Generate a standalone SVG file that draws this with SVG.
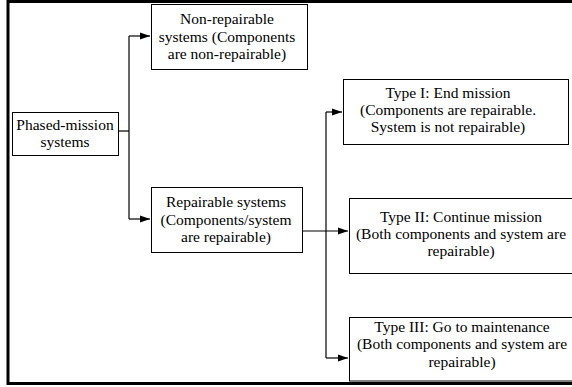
<svg xmlns="http://www.w3.org/2000/svg" width="572" height="387" viewBox="0 0 572 387">
<style>
.box{fill:#fff;stroke:#000;stroke-width:1}
.t{font-family:"Liberation Serif","Times New Roman",serif;font-size:15.5px;fill:#000;text-anchor:middle}
.c{fill:none;stroke:#000;stroke-width:1.2}
</style>
<defs>
<marker id="ah" markerWidth="10" markerHeight="8" refX="10" refY="4" orient="auto" markerUnits="userSpaceOnUse">
<path d="M0,0.5 L10,4 L0,7.5 Z" fill="#000"/>
</marker>
</defs>
<rect x="0" y="0" width="572" height="387" fill="#fff"/>
<path d="M590,1.5 H8 V383.5 H590" fill="none" stroke="#000" stroke-width="3"/>
<g id="connectors">
<path class="c" d="M118,131 H129"/>
<path class="c" d="M129,36 V219"/>
<path class="c" d="M129,36 H150" marker-end="url(#ah)"/>
<path class="c" d="M129,219 H150" marker-end="url(#ah)"/>
<path class="c" d="M302,231 H348" marker-end="url(#ah)"/>
<path class="c" d="M326,112 V358"/>
<path class="c" d="M326,112 H342" marker-end="url(#ah)"/>
<path class="c" d="M326,358 H348" marker-end="url(#ah)"/>
</g>
<g id="phased">
<rect class="box" x="12.5" y="112.5" width="106" height="43"/>
<text class="t" x="65" y="130">Phased-mission</text>
<text class="t" x="65" y="147">systems</text>
</g>
<g id="nonrep">
<rect class="box" x="151.5" y="4.5" width="156" height="65"/>
<text class="t" x="227" y="24">Non-repairable</text>
<text class="t" x="227" y="42">systems (Components</text>
<text class="t" x="227" y="59">are non-repairable)</text>
</g>
<g id="rep">
<rect class="box" x="151.5" y="187.5" width="151" height="65"/>
<text class="t" x="226" y="207">Repairable systems</text>
<text class="t" x="226" y="224.5">(Components/system</text>
<text class="t" x="226" y="242">are repairable)</text>
</g>
<g id="type1">
<rect class="box" x="343.5" y="79.5" width="225" height="65"/>
<text class="t" x="448" y="98">Type I: End mission</text>
<text class="t" x="448" y="115">(Components are repairable.</text>
<text class="t" x="448" y="132">System is not repairable)</text>
</g>
<g id="type2">
<rect class="box" x="349.5" y="198.5" width="230" height="75"/>
<text class="t" x="461" y="222">Type II: Continue mission</text>
<text class="t" x="461" y="239">(Both components and system are</text>
<text class="t" x="461" y="256">repairable)</text>
</g>
<g id="type3">
<rect class="box" x="349.5" y="317.5" width="230" height="63.5"/>
<text class="t" x="462" y="332">Type III: Go to maintenance</text>
<text class="t" x="462" y="349">(Both components and system are</text>
<text class="t" x="462" y="367">repairable)</text>
</g>
</svg>
